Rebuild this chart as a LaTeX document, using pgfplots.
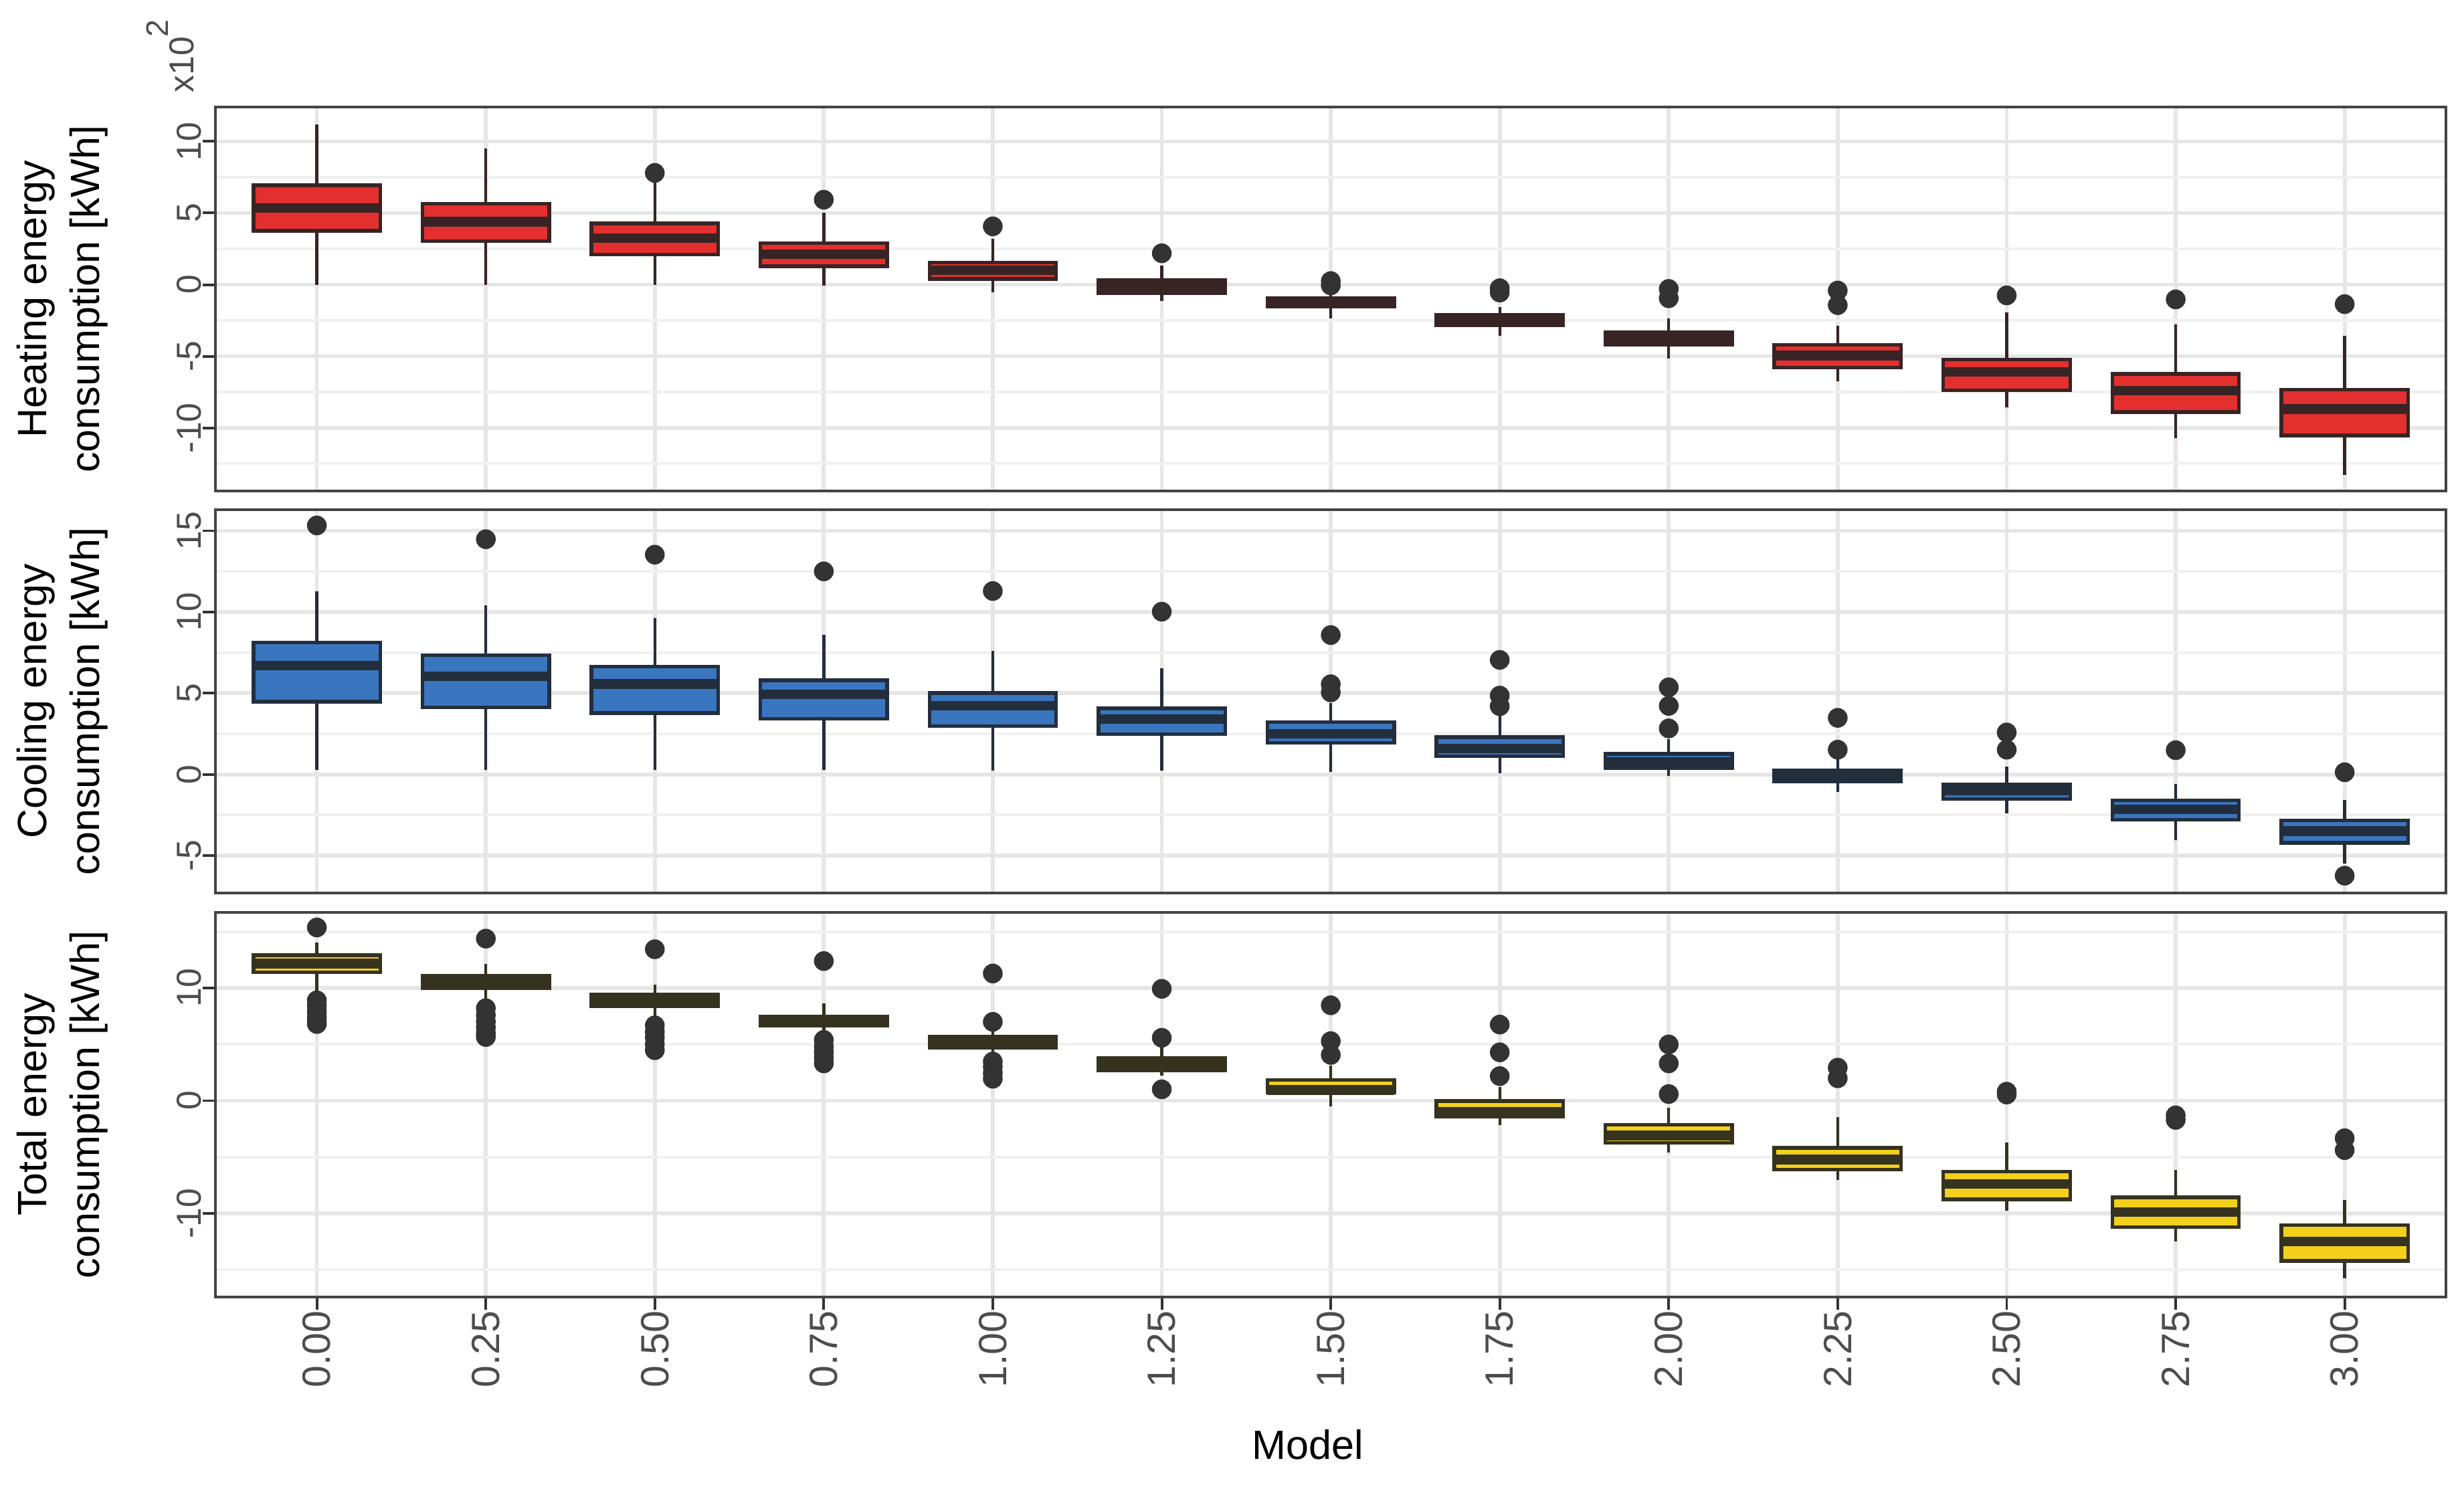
\documentclass[border=0pt]{standalone}
\usepackage{fontspec}
\setmainfont{Liberation Sans}
\usepackage{pgfplots}
\pgfplotsset{compat=1.18}
\usepgfplotslibrary{statistics}

\definecolor{hfill}{HTML}{E3302E}
\definecolor{hline}{HTML}{382424}
\definecolor{cfill}{HTML}{3A75BF}
\definecolor{cline}{HTML}{232E3D}
\definecolor{tfill}{HTML}{F3D01C}
\definecolor{tline}{HTML}{35321F}
\definecolor{outl}{HTML}{333333}
\definecolor{tickgrey}{HTML}{4D4D4D}
\definecolor{frame}{HTML}{444444}
\definecolor{gmaj}{HTML}{E6E6E6}
\definecolor{gmin}{HTML}{F0F0F0}

% one box: position, lower whisker, Q1, median, Q3, upper whisker, outliers
\newcommand{\bx}[7]{%
  \addplot[mark=*, mark size=1.85pt, mark options={draw=outl, fill=outl},
    boxplot prepared={draw position=#1, lower whisker=#2, lower quartile=#3,
      median=#4, upper quartile=#5, upper whisker=#6}] coordinates {#7};}

\pgfplotsset{
  panel/.style={
    scale only axis, width=16.295cm,
    xmin=-0.6, xmax=12.6, xtick={0,...,12},
    xtick pos=bottom, ytick pos=left,
    xmajorgrids, ymajorgrids, yminorgrids,
    major grid style={draw=gmaj, line width=0.8pt},
    minor grid style={draw=gmin, line width=0.55pt},
    axis line style={draw=frame, line width=0.55pt},
    tick align=outside, major tick length=2.7pt, minor tick length=0pt,
    ytick style={draw=outl, line width=0.55pt},
    yticklabel style={rotate=90, anchor=south, text=tickgrey, inner sep=0pt,
      font=\fontsize{7.2}{8}\selectfont},
    ylabel style={at={(axis description cs:-0.0687,0.5)}, anchor=center,
      align=center, font=\fontsize{8.5}{11}\selectfont},
    boxplot/draw direction=y,
    boxplot/box extend=0.75, boxplot/whisker extend=0,
  },
  toppanel/.style={panel, xticklabels={}, xtick style={draw=none}},
  boxes/.style 2 args={
    boxplot/every box/.style={draw=#2, fill=#1, line width=0.75pt},
    boxplot/every median/.style={draw=#2, line width=2pt},
    boxplot/every whisker/.style={draw=#2, line width=0.6pt},
  },
}

\begin{document}
\begin{tikzpicture}
\path[use as bounding box] (0,0) rectangle (18cm,-10.86cm);

% Heating
\begin{axis}[toppanel, boxes={hfill}{hline}, name=h,
    at={(1.574cm,-0.782cm)}, anchor=north west, height=2.805cm,
    ymin=-14.4, ymax=12.4, ytick={-10,-5,0,5,10}, yticklabels={-10,-5,0,5,10},
    minor ytick={-12.5,-7.5,-2.5,2.5,7.5},
    ylabel={Heating energy\\consumption [kWh]}]
\bx{0}{0.0}{3.76}{5.36}{6.94}{11.18}{}
\bx{1}{0.0}{3.04}{4.39}{5.65}{9.51}{}
\bx{2}{0.0}{2.11}{3.26}{4.27}{7.1}{(2,7.8)}
\bx{3}{-0.07}{1.29}{2.12}{2.91}{5.0}{(3,5.93)}
\bx{4}{-0.53}{0.39}{1.01}{1.55}{3.21}{(4,4.07)}
\bx{5}{-1.16}{-0.59}{-0.12}{0.33}{1.33}{(5,2.19)}
\bx{6}{-2.34}{-1.54}{-1.24}{-0.94}{-0.41}{(6,0.25) (6,-0.05)}
\bx{7}{-3.58}{-2.83}{-2.47}{-2.12}{-1.55}{(7,-0.25) (7,-0.55)}
\bx{8}{-5.17}{-4.21}{-3.75}{-3.30}{-2.38}{(8,-0.3) (8,-0.95)}
\bx{9}{-6.76}{-5.80}{-4.94}{-4.20}{-2.86}{(9,-0.41) (9,-1.43)}
\bx{10}{-8.57}{-7.38}{-6.08}{-5.24}{-1.95}{(10,-0.75)}
\bx{11}{-10.72}{-8.90}{-7.39}{-6.24}{-2.79}{(11,-1.03)}
\bx{12}{-13.28}{-10.53}{-8.68}{-7.33}{-3.58}{(12,-1.36)}
\end{axis}
\node[rotate=90, anchor=base west, inner sep=0pt, text=tickgrey,
  font=\fontsize{7.2}{8}\selectfont] at (1.417cm,-0.684cm)
  {x10\raisebox{0.75em}{\fontsize{6.5}{7}\selectfont 2}};

% Cooling
\begin{axis}[toppanel, boxes={cfill}{cline},
    at={(1.574cm,-3.724cm)}, anchor=north west, height=2.800cm,
    ymin=-7.3, ymax=16.3, ytick={-5,0,5,10,15}, yticklabels={-5,0,5,10,15},
    minor ytick={-2.5,2.5,7.5,12.5},
    ylabel={Cooling energy\\consumption [kWh]}]
\bx{0}{0.29}{4.48}{6.70}{8.12}{11.29}{(0,15.33)}
\bx{1}{0.29}{4.12}{6.05}{7.33}{10.42}{(1,14.48)}
\bx{2}{0.29}{3.78}{5.56}{6.65}{9.61}{(2,13.53)}
\bx{3}{0.29}{3.42}{4.92}{5.80}{8.58}{(3,12.5)}
\bx{4}{0.25}{2.96}{4.22}{5.01}{7.60}{(4,11.29)}
\bx{5}{0.25}{2.49}{3.40}{4.07}{6.54}{(5,10.02)}
\bx{6}{0.13}{1.95}{2.50}{3.22}{4.4}{(6,8.58) (6,5.55) (6,5.05)}
\bx{7}{0.05}{1.13}{1.6}{2.29}{3.7}{(7,7.05) (7,4.85) (7,4.2)}
\bx{8}{-0.11}{0.39}{0.78}{1.26}{2.17}{(8,5.36) (8,4.22) (8,2.83)}
\bx{9}{-1.09}{-0.42}{-0.11}{0.23}{0.95}{(9,3.48) (9,1.52)}
\bx{10}{-2.40}{-1.53}{-1.01}{-0.62}{0.46}{(10,2.58) (10,1.52)}
\bx{11}{-4.04}{-2.79}{-2.16}{-1.60}{-0.60}{(11,1.49)}
\bx{12}{-5.51}{-4.21}{-3.50}{-2.83}{-1.58}{(12,0.13) (12,-6.24)}
\end{axis}

% Total
\begin{axis}[panel, boxes={tfill}{tline},
    at={(1.574cm,-6.666cm)}, anchor=north west, height=2.810cm,
    ymin=-17.4, ymax=16.7, ytick={-10,0,10}, yticklabels={-10,0,10},
    minor ytick={-15,-5,5,15},
    xtick style={draw=outl, line width=0.55pt},
    xticklabels={0.00,0.25,0.50,0.75,1.00,1.25,1.50,1.75,2.00,2.25,2.50,2.75,3.00},
    xticklabel style={rotate=90, anchor=east, text=tickgrey, inner sep=0pt,
      font=\fontsize{8.2}{9}\selectfont},
    xlabel={Model},
    xlabel style={at={(axis description cs:0.4898,-0.3843)}, anchor=center,
      font=\fontsize{8.5}{10}\selectfont},
    ylabel={Total energy\\consumption [kWh]}]
\bx{0}{9.5}{11.40}{12.15}{12.89}{14.02}{(0,15.36) (0,8.9) (0,8.4) (0,7.9) (0,7.4) (0,7.0) (0,6.8)}
\bx{1}{8.9}{9.95}{10.5}{11.06}{12.15}{(1,14.37) (1,8.2) (1,7.6) (1,7.0) (1,6.5) (1,6.0) (1,5.65)}
\bx{2}{7.3}{8.36}{8.86}{9.42}{10.27}{(2,13.43) (2,6.68) (2,6.1) (2,5.6) (2,5.0) (2,4.48)}
\bx{3}{5.9}{6.67}{7.10}{7.49}{8.63}{(3,12.38) (3,5.39) (3,4.8) (3,4.3) (3,3.8) (3,3.31)}
\bx{4}{4.1}{4.68}{5.18}{5.66}{6.2}{(4,11.28) (4,6.99) (4,3.47) (4,3.0) (4,2.45) (4,1.95)}
\bx{5}{2.2}{2.68}{3.24}{3.79}{4.76}{(5,9.92) (5,5.58) (5,1.01)}
\bx{6}{-0.52}{0.74}{0.95}{1.84}{3.12}{(6,8.46) (6,5.28) (6,4.06)}
\bx{7}{-2.16}{-1.42}{-0.98}{-0.03}{1.24}{(7,6.75) (7,4.29) (7,2.18)}
\bx{8}{-4.57}{-3.72}{-3.09}{-2.12}{-0.63}{(8,4.99) (8,3.31) (8,0.59)}
\bx{9}{-7.01}{-6.11}{-5.21}{-4.18}{-1.45}{(9,2.93) (9,1.99)}
\bx{10}{-9.78}{-8.74}{-7.39}{-6.29}{-3.68}{(10,0.8) (10,0.55)}
\bx{11}{-12.47}{-11.20}{-9.89}{-8.57}{-6.14}{(11,-1.3) (11,-1.7)}
\bx{12}{-15.76}{-14.20}{-12.47}{-11.03}{-8.79}{(12,-3.33) (12,-4.38)}
\end{axis}
\end{tikzpicture}
\end{document}
